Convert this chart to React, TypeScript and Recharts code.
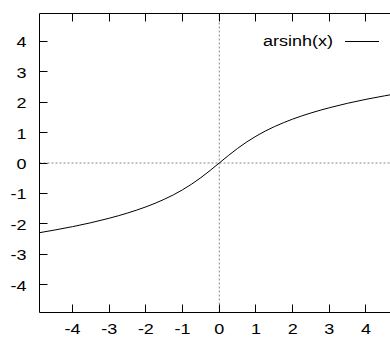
import React from 'react';
import { LineChart, Line, XAxis, YAxis, ReferenceLine } from 'recharts';

// Sampled curve: x positions and arsinh(x) values
const xValues = [
  -4.9, -4.5, -4, -3.5, -3, -2.5, -2, -1.75, -1.5, -1.25, -1, -0.75, -0.5, -0.25, 0,
  0.25, 0.5, 0.75, 1, 1.25, 1.5, 1.75, 2, 2.5, 3, 3.5, 4, 4.5, 4.9,
];
const yValues = [
  -2.293, -2.209, -2.095, -1.966, -1.818, -1.647, -1.444, -1.326, -1.195, -1.048, -0.881, -0.693, -0.481, -0.247, 0,
  0.247, 0.481, 0.693, 0.881, 1.048, 1.195, 1.326, 1.444, 1.647, 1.818, 1.966, 2.095, 2.209, 2.293,
];
const xTicks = [-4, -3, -2, -1, 0, 1, 2, 3, 4];
const yTicks = [-4, -3, -2, -1, 0, 1, 2, 3, 4];
const seriesName = 'arsinh(x)';

const data = xValues.map((x, i) => ({ x, y: yValues[i] }));

const FONT = '"Liberation Sans", Arial, sans-serif';
const FONT_SIZE = 15;
const STRETCH = 1.2;
const TICK_LEN = 8;

// snap a coordinate to the middle of a pixel so 1px lines stay sharp
const crisp = (v: number) => Math.round(v - 0.5) + 0.5;

// Bottom axis: inward tick plus label below the frame
const BottomTick = (props: any) => {
  const { x, y, payload } = props;
  const cx = crisp(x);
  return (
    <g>
      <line x1={cx} x2={cx} y1={y} y2={y - TICK_LEN} stroke="#000" strokeWidth={1} />
      <text
        transform={`translate(${x} ${y}) scale(${STRETCH} 1)`}
        x={0}
        y={22}
        textAnchor="middle"
        fontSize={FONT_SIZE}
        fontFamily={FONT}
        fill="#000"
      >
        {payload.value}
      </text>
    </g>
  );
};

// Top axis: inward tick only
const TopTick = (props: any) => {
  const { x, y } = props;
  const cx = crisp(x);
  return <line x1={cx} x2={cx} y1={y} y2={y + TICK_LEN} stroke="#000" strokeWidth={1} />;
};

// Left axis: inward tick plus right-aligned label
const LeftTick = (props: any) => {
  const { x, y, payload } = props;
  const cy = crisp(y);
  return (
    <g>
      <line x1={x} x2={x + TICK_LEN} y1={cy} y2={cy} stroke="#000" strokeWidth={1} />
      <text
        transform={`translate(${x - 13} ${y}) scale(${STRETCH} 1)`}
        x={0}
        y={6}
        textAnchor="end"
        fontSize={FONT_SIZE}
        fontFamily={FONT}
        fill="#000"
      >
        {payload.value}
      </text>
    </g>
  );
};

const frame = { stroke: '#000', strokeWidth: 1 };

export default function App() {
  return (
    <div style={{ position: 'absolute', left: 0, top: 0, width: 390, height: 338, overflow: 'hidden', background: '#fff' }}>
      <LineChart width={400} height={338} data={data} margin={{ top: 12.5, right: 1, bottom: 0, left: 0 }}>
        <XAxis
          xAxisId="bottom"
          dataKey="x"
          type="number"
          domain={[-4.9, 4.9]}
          ticks={xTicks}
          allowDataOverflow
          height={25.5}
          tickSize={0}
          tickMargin={0}
          tickLine={false}
          axisLine={frame}
          tick={(p: any) => <BottomTick {...p} />}
        />
        <XAxis
          xAxisId="top"
          orientation="top"
          dataKey="x"
          type="number"
          domain={[-4.9, 4.9]}
          ticks={xTicks}
          allowDataOverflow
          height={1}
          tickSize={0}
          tickMargin={0}
          tickLine={false}
          axisLine={frame}
          tick={(p: any) => <TopTick {...p} />}
        />
        <YAxis
          dataKey="y"
          type="number"
          domain={[-4.92, 4.92]}
          ticks={yTicks}
          allowDataOverflow
          width={39.5}
          tickSize={0}
          tickMargin={0}
          tickLine={false}
          axisLine={frame}
          tick={(p: any) => <LeftTick {...p} />}
        />
        <ReferenceLine xAxisId="bottom" x={0} stroke="#888" strokeDasharray="2 2" />
        <ReferenceLine xAxisId="bottom" y={0} stroke="#888" strokeDasharray="2 2" />
        <Line
          xAxisId="bottom"
          type="monotone"
          dataKey="y"
          name={seriesName}
          stroke="#000"
          strokeWidth={1}
          dot={false}
          isAnimationActive={false}
        />
      </LineChart>
      <svg style={{ position: 'absolute', left: 0, top: 0 }} width={390} height={60}>
        <text
          transform={`translate(333 46) scale(${STRETCH} 1)`}
          x={0}
          y={0}
          textAnchor="end"
          fontSize={FONT_SIZE}
          fontFamily={FONT}
          fill="#000"
        >
          {seriesName}
        </text>
        <line x1={345} x2={379} y1={41.5} y2={41.5} stroke="#000" strokeWidth={1} />
      </svg>
    </div>
  );
}
